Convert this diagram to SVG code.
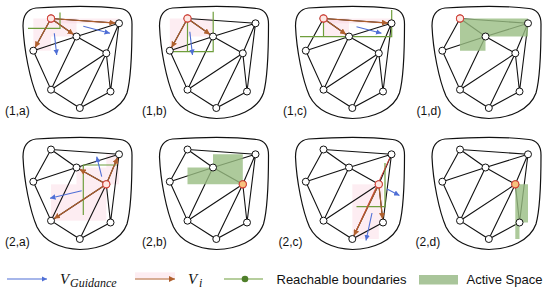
<svg xmlns="http://www.w3.org/2000/svg" xmlns:xlink="http://www.w3.org/1999/xlink" width="550" height="291" viewBox="0 0 550 291">
<style>
.blob{fill:none;stroke:#111;stroke-width:1.2}
.edge{fill:none;stroke:#111;stroke-width:1.1}
.node{fill:#fff;stroke:#111;stroke-width:1}
.cur{fill:#fde8e4;stroke:#d9443a;stroke-width:1.1}
.curo{fill:#f7c27e;stroke:#d9443a;stroke-width:1.1}
.vi{fill:none;stroke:#b0602e;stroke-width:1.2;marker-end:url(#ahb)}
.vg{fill:none;stroke:#4f6fd6;stroke-width:1.1;marker-end:url(#ahg)}
.rb{fill:none;stroke:#6f9e3c;stroke-width:1.2}
.as{fill:#98bd82;opacity:0.8;stroke:none}
.pk{fill:#f9d3df;opacity:0.4;stroke:none}
.lbl{font-family:"Liberation Sans",Arial,sans-serif;font-size:12px;fill:#111}
.leg{font-family:"Liberation Sans",Arial,sans-serif;font-size:13px;fill:#111}
.math{font-family:"Liberation Serif","Times New Roman",serif;font-style:italic;fill:#111}
</style>
<defs>
<marker id="ahb" viewBox="0 0 10 10" markerUnits="userSpaceOnUse" markerWidth="6" markerHeight="6" refX="16" refY="5" orient="auto"><path d="M0,0L10,5L0,10z" fill="#b0602e"/></marker>
<marker id="ahl" viewBox="0 0 10 10" markerUnits="userSpaceOnUse" markerWidth="6" markerHeight="6" refX="10" refY="5" orient="auto"><path d="M0,0L10,5L0,10z" fill="#b0602e"/></marker>
<marker id="ahg" viewBox="0 0 10 10" markerUnits="userSpaceOnUse" markerWidth="5.5" markerHeight="5.5" refX="10" refY="5" orient="auto"><path d="M0,0L10,5L0,10z" fill="#4f6fd6"/></marker>
<path id="blobp" class="blob" d="M36,8 C65,6 100,6 120,8.5 C128,9.5 132,14 132,24 C132,45 132,75 127,93 C121,110 100,118 80,118.5 C60,118 44,110 37,96 C30,80 24,50 23,26 C23,15 28,9 36,8 Z"/>
<path id="edgesp" class="edge" d="M51,18.5L119,23.3 M51,18.5L76.5,36.5 M51,18.5L33.3,50.7 M33.3,50.7L76.5,36.5L119,23.3 M76.5,36.5L106.3,53.3 M76.5,36.5L51,89.7 M119,23.3L106.3,53.3 M119,23.3L110.5,91.5 M106.3,53.3L51,89.7 M106.3,53.3L79.8,108 M106.3,53.3L110.5,91.5 M33.3,50.7L51,89.7L79.8,108L110.5,91.5"/>
<g id="nodesg">
<circle class="node" cx="51" cy="18.5" r="3.5"/>
<circle class="node" cx="119" cy="23.3" r="3.5"/>
<circle class="node" cx="76.5" cy="36.5" r="3.5"/>
<circle class="node" cx="33.3" cy="50.7" r="3.5"/>
<circle class="node" cx="106.3" cy="53.3" r="3.5"/>
<circle class="node" cx="51" cy="89.7" r="3.5"/>
<circle class="node" cx="110.5" cy="91.5" r="3.5"/>
<circle class="node" cx="79.8" cy="108" r="3.5"/>
</g>
</defs>

<g id="panel-1a">
<rect class="pk" x="51" y="18.5" width="68" height="4.8"/>
<rect class="pk" x="51" y="18.5" width="25.5" height="18"/>
<rect class="pk" x="33.3" y="18.5" width="17.7" height="32.2"/>
<use xlink:href="#blobp"/>
<use xlink:href="#edgesp"/>
<g id="conn-1a">
<path class="rb" d="M28,28.3H60V12.5"/>
<path class="vi" d="M51,18.5L119,23.3"/>
<path class="vi" d="M51,18.5L76.5,36.5"/>
<path class="vi" d="M51,18.5L33.3,50.7"/>
<path class="vg" d="M54.3,33.3L56.7,55"/>
<path class="vg" d="M83.3,26.3L110,33.3"/>
</g>
<use xlink:href="#nodesg"/>
<circle class="cur" cx="51" cy="18.5" r="3.6"/>
<text class="lbl" x="5" y="115">(1,a)</text>
</g>

<g id="panel-1b" transform="translate(136.5,0)">
<rect class="pk" x="51" y="18.5" width="25.5" height="18"/>
<rect class="pk" x="33.3" y="18.5" width="17.7" height="32.2"/>
<use xlink:href="#blobp"/>
<use xlink:href="#edgesp"/>
<g id="conn-1b">
<path class="rb" d="M33.3,51.7H76.7V11.7"/>
<path class="rb" d="M51,22V51.7"/>
<path class="vi" d="M51,18.5L76.5,36.5"/>
<path class="vi" d="M51,18.5L33.3,50.7"/>
<path class="vg" d="M53.3,31.7L56,55"/>
</g>
<use xlink:href="#nodesg"/>
<circle class="cur" cx="51" cy="18.5" r="3.6"/>
<text class="lbl" x="5.5" y="115">(1,b)</text>
</g>

<g id="panel-1c" transform="translate(272.5,0)">
<rect class="pk" x="51" y="18.5" width="68" height="4.8"/>
<rect class="pk" x="51" y="18.5" width="25.5" height="18"/>
<use xlink:href="#blobp"/>
<use xlink:href="#edgesp"/>
<g id="conn-1c">
<path class="rb" d="M27.5,36.7H119.2V10"/>
<path class="rb" d="M51,22V36.7"/>
<path class="vi" d="M51,18.5L119,23.3"/>
<path class="vi" d="M51,18.5L76.5,36.5"/>
<path class="vg" d="M84,26.7L109,33.3"/>
</g>
<use xlink:href="#nodesg"/>
<circle class="cur" cx="51" cy="18.5" r="3.6"/>
<text class="lbl" x="10.5" y="115">(1,c)</text>
</g>

<g id="panel-1d" transform="translate(409,0)">
<use xlink:href="#blobp"/>
<use xlink:href="#edgesp"/>
<path class="as" d="M51,18.5H119V36.5H76.5V50.7H51Z"/>
<use xlink:href="#nodesg"/>
<circle class="cur" cx="51" cy="18.5" r="3.6"/>
<text class="lbl" x="7.5" y="115">(1,d)</text>
</g>

<g id="panel-2a" transform="translate(0,131)">
<rect class="pk" x="106.3" y="23.3" width="12.7" height="30"/>
<rect class="pk" x="76.5" y="36.5" width="29.8" height="16.8"/>
<rect class="pk" x="51" y="53.3" width="55.3" height="36.4"/>
<use xlink:href="#blobp"/>
<use xlink:href="#edgesp"/>
<g id="conn-2a">
<path class="rb" d="M116.7,34H83.3V84"/>
<path class="vi" d="M106.3,53.3L119,23.3"/>
<path class="vi" d="M106.3,53.3L76.5,36.5"/>
<path class="vi" d="M106.3,53.3L51,89.7"/>
<path class="vg" d="M101.7,45.7L96.7,25.7"/>
<path class="vg" d="M81.7,59.7L50,67.3"/>
</g>
<use xlink:href="#nodesg"/>
<circle class="cur" cx="106.3" cy="53.3" r="3.6"/>
<text class="lbl" x="5" y="114.5">(2,a)</text>
</g>

<g id="panel-2b" transform="translate(136.5,131)">
<use xlink:href="#blobp"/>
<use xlink:href="#edgesp"/>
<path class="as" d="M76.5,23.3H106.3V53.3H51V36.5H76.5Z"/>
<use xlink:href="#nodesg"/>
<circle class="curo" cx="106.3" cy="53.3" r="3.6"/>
<text class="lbl" x="5.5" y="114.5">(2,b)</text>
</g>

<g id="panel-2c" transform="translate(272.5,131)">
<rect class="pk" x="79.8" y="53.3" width="26.5" height="54.7"/>
<rect class="pk" x="106.3" y="53.3" width="4.2" height="38.2"/>
<use xlink:href="#blobp"/>
<use xlink:href="#edgesp"/>
<g id="conn-2c">
<path class="rb" d="M84,75.7H112.5V32"/>
<path d="M119,23.3L79.8,108" fill="none" stroke="#d9443a" stroke-width="1"/>
<path class="vi" d="M106.3,53.3L79.8,108"/>
<path class="vi" d="M106.3,53.3L110.5,91.5"/>
<path class="vg" d="M114.5,58L127,64.5"/>
<path class="vg" d="M99.5,82L93.5,109.5"/>
</g>
<use xlink:href="#nodesg"/>
<circle class="cur" cx="106.3" cy="53.3" r="3.6"/>
<text class="lbl" x="6" y="114.5">(2,c)</text>
</g>

<g id="panel-2d" transform="translate(409,131)">
<use xlink:href="#blobp"/>
<use xlink:href="#edgesp"/>
<path class="as" d="M106.3,53.3H119V91.5H110.5V108H106.3Z"/>
<use xlink:href="#nodesg"/>
<circle class="curo" cx="106.3" cy="53.3" r="3.6"/>
<text class="lbl" x="6.5" y="114.5">(2,d)</text>
</g>

<g id="legend">
<path class="vg" d="M7,279H47"/>
<text class="math" x="60" y="283.5" font-size="15">V</text>
<text class="math" x="70" y="286.5" font-size="12">Guidance</text>
<rect class="pk" x="135" y="272.3" width="40" height="6"/>
<path d="M135,279H175" fill="none" stroke="#b0602e" stroke-width="1.2" marker-end="url(#ahl)"/>
<text class="math" x="188" y="283.5" font-size="15">V</text>
<text class="math" x="199" y="286.5" font-size="12">i</text>
<path class="rb" d="M224,279H263"/>
<circle cx="245" cy="279" r="3.3" fill="#4f7f2a"/>
<text class="leg" x="276.5" y="283.5">Reachable boundaries</text>
<rect x="419" y="275" width="39" height="9.5" fill="#a9c59a"/>
<text class="leg" x="466.5" y="283.5">Active Space</text>
</g>
</svg>
